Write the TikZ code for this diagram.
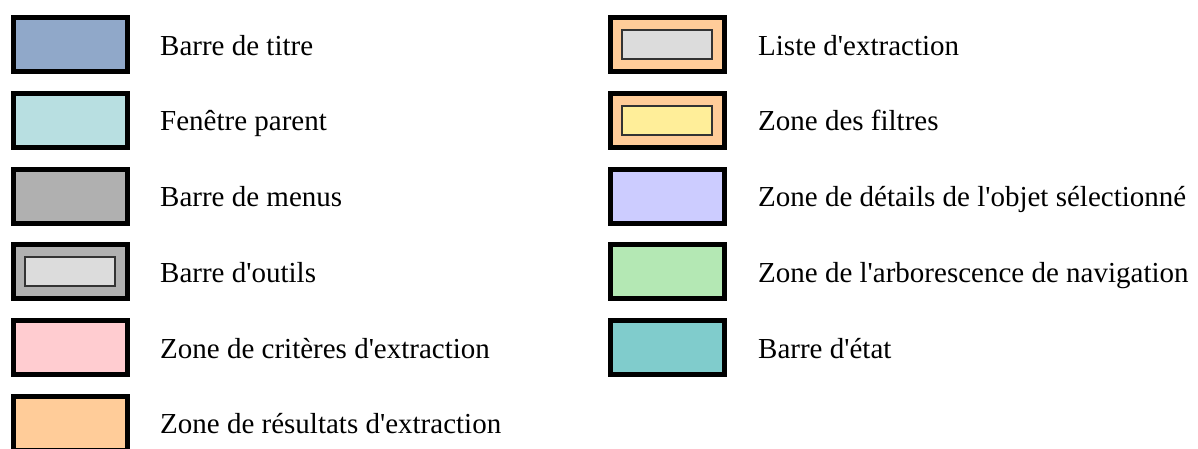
\documentclass[tikz,border=0pt]{standalone}
\usepackage{fontspec}
\setmainfont{Liberation Serif}[Ligatures=TeXOff]
\begin{document}
\begin{tikzpicture}[x=1pt,y=-1pt,
  swatch/.style={draw=black,line width=5pt},
  inset/.style={draw=black!80,line width=2pt},
  lbl/.style={anchor=base west,inner sep=0pt,font=\fontsize{29}{34}\selectfont},
]
\definecolor{cTitre}{HTML}{90A8C9}
\definecolor{cParent}{HTML}{B8DFE1}
\definecolor{cMenus}{HTML}{B0B0B0}
\definecolor{cInner}{HTML}{DCDCDC}
\definecolor{cCriteres}{HTML}{FFCCD0}
\definecolor{cResultats}{HTML}{FFCC99}
\definecolor{cFiltres}{HTML}{FFEE99}
\definecolor{cDetails}{HTML}{CCCCFF}
\definecolor{cArbo}{HTML}{B4E8B4}
\definecolor{cEtat}{HTML}{80CCCC}
\useasboundingbox (0,0) rectangle (1198,448);
\clip (0,0) rectangle (1198,448);
% swatch: #1 = left x, #2 = top y, #3 = fill colour
\newcommand\plainswatch[3]{%
  \draw[swatch,fill=#3] (#1+2.5,#2+2.5) rectangle (#1+116.5,#2+56.5);}
\newcommand\nestedswatch[4]{%
  \draw[swatch,fill=#3] (#1+2.5,#2+2.5) rectangle (#1+116.5,#2+56.5);
  \draw[inset,fill=#4] (#1+14,#2+15) rectangle (#1+104,#2+44);}
% left column
\plainswatch{11}{15}{cTitre}
\node[lbl] (t1) at (160,55) {Barre de titre};
\plainswatch{11}{91}{cParent}
\node[lbl] (t2) at (160,130) {Fenêtre parent};
\plainswatch{11}{167}{cMenus}
\node[lbl] (t3) at (160,206) {Barre de menus};
\nestedswatch{11}{242}{cMenus}{cInner}
\node[lbl] (t4) at (160,282) {Barre d'outils};
\plainswatch{11}{318}{cCriteres}
\node[lbl] (t5) at (160,358) {Zone de critères d'extraction};
\plainswatch{11}{394}{cResultats}
\node[lbl] (t6) at (160,433) {Zone de résultats d'extraction};
% right column
\nestedswatch{608}{15}{cResultats}{cInner}
\node[lbl] (t7) at (758,55) {Liste d'extraction};
\nestedswatch{608}{91}{cResultats}{cFiltres}
\node[lbl] (t8) at (758,130) {Zone des filtres};
\plainswatch{608}{167}{cDetails}
\node[lbl] (t9) at (758,206) {Zone de détails de l'objet sélectionné};
\plainswatch{608}{242}{cArbo}
\node[lbl] (t10) at (758,282) {Zone de l'arborescence de navigation};
\plainswatch{608}{318}{cEtat}
\node[lbl] (t11) at (758,358) {Barre d'état};
\end{tikzpicture}
\end{document}
